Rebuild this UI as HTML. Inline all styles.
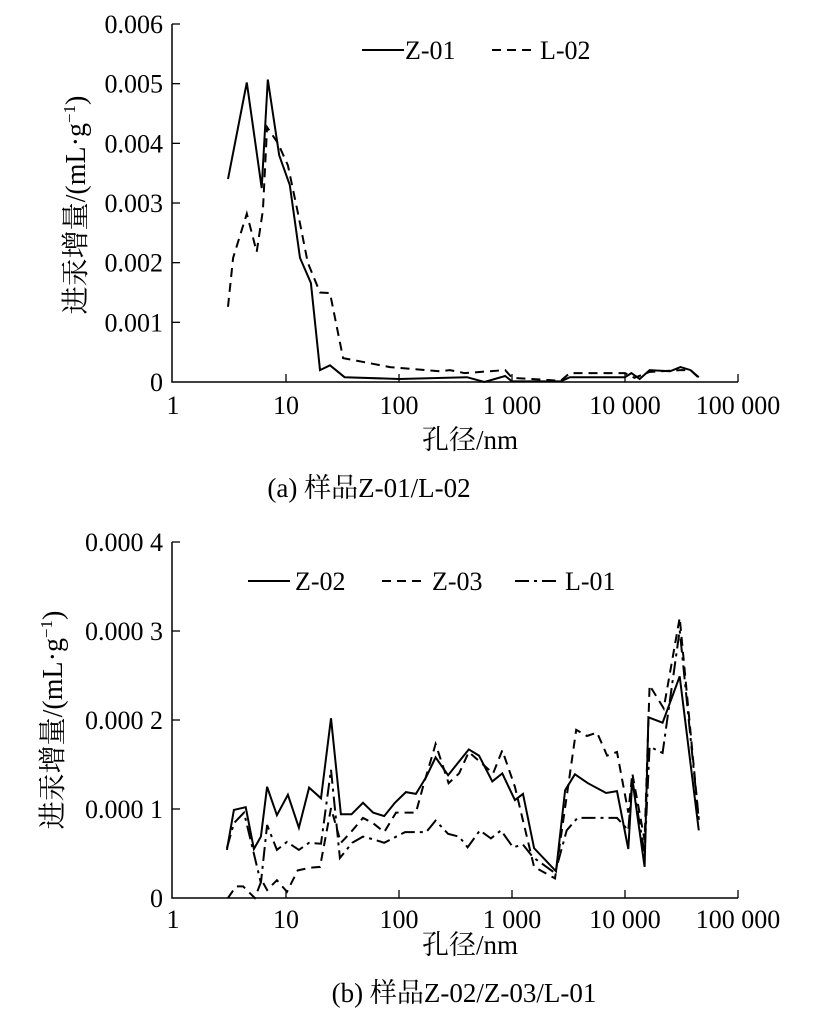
<!DOCTYPE html>
<html><head><meta charset="utf-8">
<style>
html,body{margin:0;padding:0;background:#fff;}
svg{display:block;font-family:"Liberation Serif","Noto Serif CJK SC","Noto Sans CJK SC",serif;}
</style></head>
<body>
<svg id="chart" width="817" height="1032" viewBox="0 0 817 1032" xmlns="http://www.w3.org/2000/svg"></svg>
<script>
// ---- chart (a) data ----
const xTickLabels = ["1","10","100","1 000","10 000","100 000"];
const aYTicks = ["0","0.001","0.002","0.003","0.004","0.005","0.006"];
const z01X = [3.07,4.5,6.1,6.9,8.7,10.8,13.3,16.6,20,24.5,33,100,400,570,870,1000,2700,3250,10000,11400,13500,16500,25000,31000,38000,45000];
const z01Y = [0.0034,0.00502,0.00325,0.00507,0.0038,0.0033,0.00208,0.00166,0.0002,0.00028,0.00008,0.00005,0.00008,0.0000,0.0001,0.00001,0.00001,0.00008,0.00008,0.00015,0.00005,0.0002,0.00018,0.00025,0.0002,0.00008];
const l02X = [3.07,3.4,4.5,5.5,6.25,6.8,8.5,10.4,12.7,15.6,20,24.5,32,83,230,282,380,870,1000,2700,3250,10000,12100,16500,25000,31000,38000,45000];
const l02Y = [0.00126,0.00208,0.00282,0.00218,0.00288,0.00427,0.004,0.00363,0.00285,0.002,0.0015,0.00149,0.0004,0.00025,0.00018,0.0002,0.00015,0.0002,0.00007,0.00002,0.00015,0.00015,0.00007,0.00017,0.00019,0.0002,0.0002,0.00007];
// ---- chart (b) data ----
const bYTicks = ["0","0.000 1","0.000 2","0.000 3","0.000 4"];
const z02X = [3.0,3.46,4.4,5.2,6.0,6.8,8.3,10.4,13.0,16,20.4,25,30.6,38,48,59,74,92,115,141,174,211,272,415,510,670,820,1060,1250,1570,2450,2950,3600,4700,6800,8500,10700,11600,14900,16100,21500,30500,45000];
const z02Y = [0.54,0.99,1.02,0.55,0.69,1.25,0.93,1.16,0.79,1.24,1.12,2.02,0.94,0.94,1.07,0.96,0.92,1.07,1.19,1.17,1.36,1.58,1.38,1.67,1.6,1.31,1.4,1.1,1.17,0.56,0.3,1.21,1.39,1.29,1.18,1.2,0.55,1.33,0.35,2.03,1.97,2.49,0.76];
const z03X = [3.07,3.6,4.17,5.3,6.1,6.8,8.3,10.2,12.7,16.3,20,25,30.6,37,48,59,74,94,118,141,163,211,275,340,415,680,820,1060,1570,2400,3700,4600,5650,6950,8500,10700,11600,14900,16500,22000,30500,45000];
const z03Y = [0,0.13,0.13,0,0.2,0.09,0.2,0.07,0.31,0.34,0.35,1.01,0.62,0.73,0.9,0.84,0.74,0.96,0.96,0.96,1.25,1.73,1.29,1.4,1.64,1.4,1.66,1.25,0.35,0.22,1.89,1.82,1.86,1.6,1.64,0.96,1.4,0.65,2.39,2.13,3.15,0.88];
const l01X = [3.0,3.46,4.25,6.0,6.8,8.3,10.2,13.0,16,20.4,25,30,38.5,48,59,74,113,174,211,272,340,405,520,650,800,1020,1250,1530,2400,3050,3800,8500,10700,11600,14900,16500,21500,30500,45000];
const l01Y = [0.56,0.84,0.96,0.17,0.82,0.54,0.63,0.54,0.62,0.61,1.44,0.45,0.62,0.69,0.66,0.62,0.74,0.74,0.87,0.72,0.69,0.57,0.76,0.67,0.76,0.57,0.6,0.46,0.28,0.76,0.9,0.9,0.76,1.33,0.5,1.7,1.63,3.01,0.88];

const NS = "http://www.w3.org/2000/svg";
const svg = document.getElementById('chart');
const FS = 26;
function mk(tag, attrs, parent){
  const e = document.createElementNS(NS, tag);
  for (const k in attrs) e.setAttribute(k, attrs[k]);
  (parent||svg).appendChild(e);
  return e;
}
const X0 = 172, DEC = 113;
function xs(v){ return X0 + 1 + Math.log10(v)*DEC; }

function drawPanel(p){
  const g = mk('g', {});
  
  
  const ys = v => p.y0 - v/p.yMax*(p.y0-p.yTop);
  const ax = mk('path', {d:`M${X0},${p.yTop} V${p.y0} H${xs(100000)}`, fill:'none', stroke:'#000', 'stroke-width':1.5}, g);
  
  
  p.yTicks.forEach((t,i)=>{
    const y = p.y0 - i*(p.y0-p.yTop)/(p.yTicks.length-1);
    if (i>0) mk('line', {x1:X0, x2:X0+8, y1:y, y2:y, stroke:'#000','stroke-width':1.3}, g);
    const tx = mk('text', {x:163, y:y+9, 'text-anchor':'end', 'font-size':FS}, g);
    tx.textContent = t;
    
    
  });
  xTickLabels.forEach((t,i)=>{
    const x = xs(Math.pow(10,i));
    if (i>0) mk('line', {x1:x, x2:x, y1:p.y0, y2:p.y0-8, stroke:'#000','stroke-width':1.3}, g);
    const tx = mk('text', {x:x, y:p.y0+p.xtOff, 'text-anchor':'middle', 'font-size':FS}, g);
    tx.textContent = t;
    
    
  });
  p.series.forEach(s=>{
    const d = s.x.map((v,i)=>(i?'L':'M')+xs(v).toFixed(1)+','+ys(s.y[i]*s.k).toFixed(1)).join(' ');
    const pl = mk('path', {d:d, fill:'none', stroke:'#000','stroke-width':2, 'stroke-dasharray':s.dash, 'stroke-linejoin':'miter'}, g);
    
    
  });
  p.series.forEach(s=>{
    const l = mk('line', {x1:s.lx, x2:s.lx+42, y1:p.ly, y2:p.ly, stroke:'#000','stroke-width':2,'stroke-dasharray':s.dash}, g);
    
    
    const t = mk('text', {x:s.tx, y:p.ly+9, 'font-size':FS}, g);
    t.textContent = s.label;
    
    
  });
  const yt = mk('text', {transform:`translate(${p.ytx},${p.yty}) rotate(-90)`, 'text-anchor':'middle', 'font-size':28}, g);
  yt.innerHTML = '进汞增量/(mL·g<tspan dy="-10" font-size="17">−1</tspan><tspan dy="10">)</tspan>';
  
  
  const xt = mk('text', {x:470, y:p.xty, 'text-anchor':'middle', 'font-size':27}, g);
  xt.textContent = '孔径/nm';
  
  
  const cp = mk('text', {x:p.cx, y:p.cy, 'text-anchor':'middle', 'font-size':27}, g);
  cp.textContent = p.caption;
  
  
}

drawPanel({name:'panel-a', y0:382, yTop:24, yMax:0.006, yTicks:aYTicks, ly:50, ytx:85, yty:205, xtOff:32, xty:449,
  cx:369, cy:497, caption:'(a)  样品Z-01/L-02',
  series:[{x:z01X,y:z01Y,k:1,dash:'none',label:'Z-01',lx:362,tx:405},
          {x:l02X,y:l02Y,k:1,dash:'9,6',label:'L-02',lx:492,tx:540}]});
drawPanel({name:'panel-b', y0:898, yTop:542, yMax:0.0004, yTicks:bYTicks, ly:581, ytx:62, yty:720, xtOff:30, xty:954,
  cx:464, cy:1002, caption:'(b)  样品Z-02/Z-03/L-01',
  series:[{x:z02X,y:z02Y,k:0.0001,dash:'none',label:'Z-02',lx:248,tx:295},
          {x:z03X,y:z03Y,k:0.0001,dash:'9,6',label:'Z-03',lx:382,tx:432},
          {x:l01X,y:l01Y,k:0.0001,dash:'14,5,3,5',label:'L-01',lx:515,tx:565}]});
</script>
</body></html>
